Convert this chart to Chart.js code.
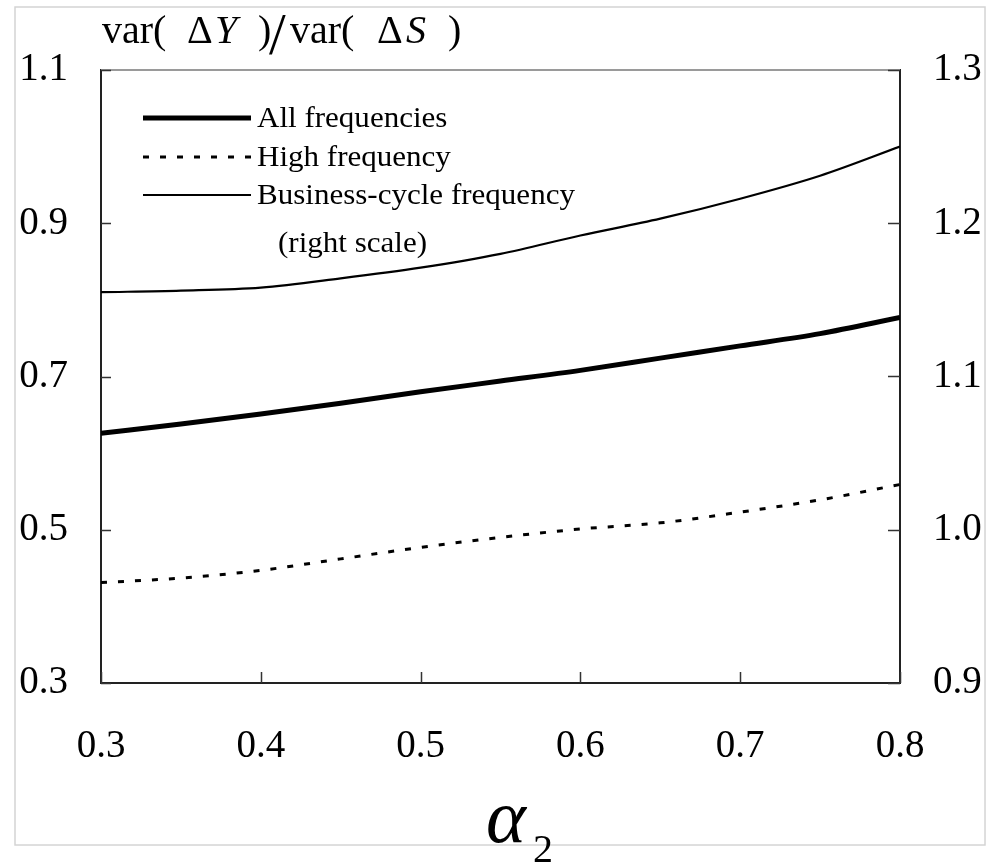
<!DOCTYPE html>
<html>
<head>
<meta charset="utf-8">
<script src="https://cdn.jsdelivr.net/npm/chart.js@4"></script>
<style>
  html, body { margin: 0; padding: 0; background: #ffffff; }
  #wrap { width: 992px; height: 866px; }
</style>
</head>
<body>
<div id="wrap"><canvas id="c" width="992" height="866"></canvas></div>
<script>
// ---- data ----
const alpha2 = [0.30, 0.35, 0.40, 0.45, 0.50, 0.55, 0.60, 0.65, 0.70, 0.75, 0.80];
const allFrequencies = [0.626, 0.638, 0.651, 0.665, 0.680, 0.694, 0.708, 0.724, 0.740, 0.756, 0.777];
const highFrequency = [0.431, 0.437, 0.447, 0.462, 0.477, 0.490, 0.501, 0.509, 0.523, 0.539, 0.559];
const businessCycle = [1.155, 1.156, 1.158, 1.164, 1.171, 1.180, 1.192, 1.203, 1.216, 1.231, 1.250];

const xTicks = [0.3, 0.4, 0.5, 0.6, 0.7, 0.8];
const leftTicks = [0.3, 0.5, 0.7, 0.9, 1.1];
const rightTicks = [0.9, 1.0, 1.1, 1.2, 1.3];

const seriesNames = ['All frequencies', 'High frequency', 'Business-cycle frequency'];
const rightScaleNote = '(right scale)';
const xAxisSymbol = 'α';
const xAxisSub = '2';

const SERIF = '"Liberation Serif", "DejaVu Serif", serif';

const toPts = (vals) => alpha2.map((x, i) => ({ x: x, y: vals[i] }));

const decorPlugin = {
  id: 'decor',
  beforeDraw(chart) {
    const ctx = chart.ctx;
    ctx.save();
    ctx.fillStyle = '#ffffff';
    ctx.fillRect(0, 0, chart.width, chart.height);
    ctx.strokeStyle = '#d4d4d4';
    ctx.lineWidth = 1.5;
    ctx.strokeRect(15, 7, 970, 838);
    ctx.restore();
  },
  afterDraw(chart) {
    const ctx = chart.ctx;
    const a = chart.chartArea;
    const sx = chart.scales.x, sy = chart.scales.y, sy2 = chart.scales.y2;
    ctx.save();
    // top frame line (light)
    ctx.strokeStyle = '#9a9a9a';
    ctx.lineWidth = 2;
    ctx.beginPath();
    ctx.moveTo(a.left, a.top);
    ctx.lineTo(a.right, a.top);
    ctx.stroke();
    // inward tick marks
    ctx.strokeStyle = '#333333';
    ctx.lineWidth = 1.5;
    ctx.beginPath();
    sy.ticks.forEach((t) => {
      const p = Math.round(sy.getPixelForValue(t.value)) + 0.5;
      ctx.moveTo(a.left, p); ctx.lineTo(a.left + 10, p);
    });
    sy2.ticks.forEach((t) => {
      const p = Math.round(sy2.getPixelForValue(t.value)) + 0.5;
      ctx.moveTo(a.right, p); ctx.lineTo(a.right - 12, p);
    });
    sx.ticks.forEach((t) => {
      const p = Math.round(sx.getPixelForValue(t.value)) + 0.5;
      ctx.moveTo(p, a.bottom); ctx.lineTo(p, a.bottom - 11);
    });
    ctx.stroke();

    // legend (drawn from dataset styles)
    const rows = [118, 157, 195];
    chart.data.datasets.forEach((ds, i) => {
      const y = rows[i];
      ctx.save();
      ctx.strokeStyle = ds.borderColor;
      ctx.lineWidth = ds.borderWidth;
      ctx.setLineDash(ds.borderDash || []);
      ctx.beginPath();
      ctx.moveTo(143, y);
      ctx.lineTo(251, y);
      ctx.stroke();
      ctx.restore();
      ctx.save();
      ctx.fillStyle = '#000';
      ctx.font = '29px ' + SERIF;
      ctx.textBaseline = 'middle';
      ctx.translate(257, y + 1);
      ctx.scale(1.07, 1);
      ctx.fillText(seriesNames[i], 0, 0);
      ctx.restore();
    });
    ctx.save();
    ctx.fillStyle = '#000';
    ctx.font = '29px ' + SERIF;
    ctx.textBaseline = 'middle';
    ctx.translate(278, 244);
    ctx.scale(1.07, 1);
    ctx.fillText(rightScaleNote, 0, 0);
    ctx.restore();

    // title: var( ΔY )/var( ΔS )
    const L = a.left;
    const base = 43;
    ctx.fillStyle = '#000';
    ctx.textBaseline = 'alphabetic';
    const norm = '40px ' + SERIF, ital = 'italic 40px ' + SERIF;
    const pieces = [
      ['var(', norm, 1], ['Δ', norm, 86], ['Y', ital, 114], [')', norm, 157],
      ['var(', norm, 189], ['Δ', norm, 276], ['S', ital, 305], [')', norm, 347]
    ];
    pieces.forEach(([t, f, dx]) => { ctx.font = f; ctx.fillText(t, L + dx, base); });
    ctx.font = '60px ' + SERIF;
    ctx.fillText('/', L + 168, base + 11);

    // x-axis symbol α₂
    ctx.font = 'italic 76px ' + SERIF;
    ctx.fillText(xAxisSymbol, 486, 842);
    ctx.font = '40px ' + SERIF;
    ctx.fillText(xAxisSub, 533, 862);
    ctx.restore();
  }
};

const tickFont = { family: SERIF, size: 39 };

new Chart(document.getElementById('c'), {
  type: 'line',
  data: {
    datasets: [
      { label: seriesNames[0], data: toPts(allFrequencies), yAxisID: 'y',
        borderColor: '#000', borderWidth: 5, pointRadius: 0, cubicInterpolationMode: 'monotone' },
      { label: seriesNames[1], data: toPts(highFrequency), yAxisID: 'y',
        borderColor: '#000', borderWidth: 3, borderDash: [6, 11], pointRadius: 0, cubicInterpolationMode: 'monotone' },
      { label: seriesNames[2], data: toPts(businessCycle), yAxisID: 'y2',
        borderColor: '#000', borderWidth: 2.2, pointRadius: 0, cubicInterpolationMode: 'monotone' }
    ]
  },
  options: {
    responsive: false,
    animation: false,
    devicePixelRatio: 1,
    layout: { padding: { top: 70, left: 0, right: 0, bottom: 0 } },
    plugins: { legend: { display: false }, tooltip: { enabled: false }, title: { display: false } },
    scales: {
      x: {
        type: 'linear', min: 0.3, max: 0.8,
        afterBuildTicks: (s) => { s.ticks = xTicks.map((v) => ({ value: v })); },
        afterFit: (s) => { s.height = 183; },
        grid: { display: false, drawTicks: false },
        border: { display: true, color: '#222', width: 2 },
        ticks: { autoSkip: false, maxRotation: 0, padding: 40, color: '#000', font: tickFont,
                 callback: (v) => Number(v).toFixed(1) }
      },
      y: {
        type: 'linear', position: 'left', min: 0.3, max: 1.1,
        afterBuildTicks: (s) => { s.ticks = leftTicks.map((v) => ({ value: v })); },
        afterFit: (s) => { s.width = 101; },
        grid: { display: false, drawTicks: false },
        border: { display: true, color: '#222', width: 2 },
        ticks: { autoSkip: false, padding: 33, color: '#000', font: tickFont,
                 callback: (v) => Number(v).toFixed(1) }
      },
      y2: {
        type: 'linear', position: 'right', min: 0.9, max: 1.3,
        afterBuildTicks: (s) => { s.ticks = rightTicks.map((v) => ({ value: v })); },
        afterFit: (s) => { s.width = 92; },
        grid: { display: false, drawTicks: false },
        border: { display: true, color: '#222', width: 2 },
        ticks: { autoSkip: false, padding: 33, color: '#000', font: tickFont,
                 callback: (v) => Number(v).toFixed(1) }
      }
    }
  },
  plugins: [decorPlugin]
});
</script>
</body>
</html>
